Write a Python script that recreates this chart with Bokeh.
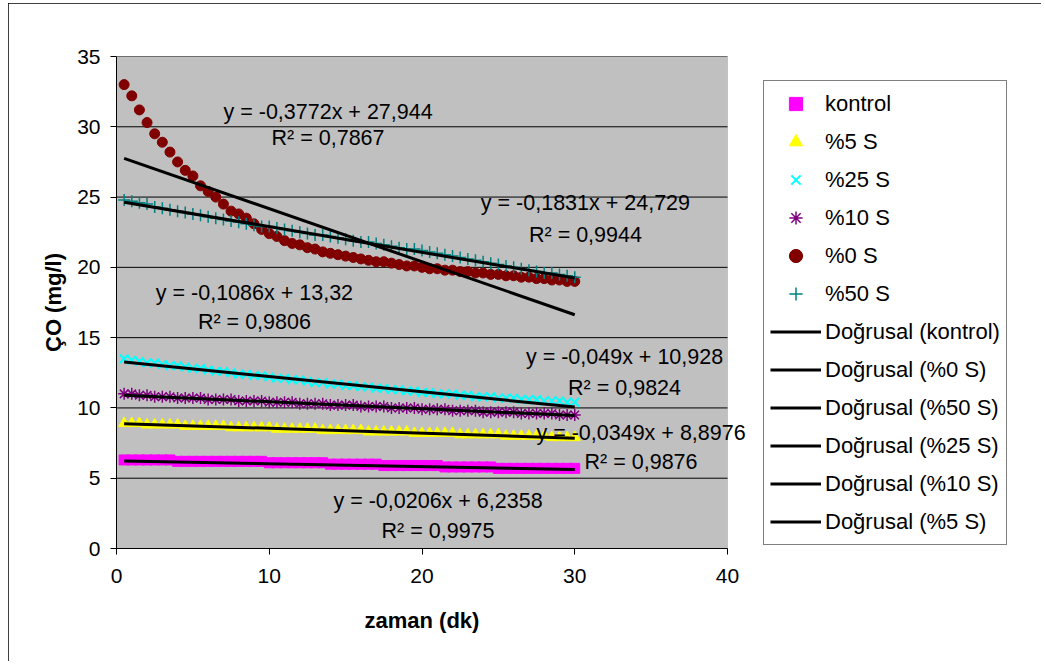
from bokeh.plotting import figure
from bokeh.models import Range1d, FixedTicker, Legend, LegendItem, Label, BoxAnnotation, Title
from bokeh.embed import file_html
from bokeh.resources import INLINE

# ---------------- data ----------------
x_vals = [0.5, 1.0, 1.5, 2.0, 2.5, 3.0, 3.5, 4.0, 4.5, 5.0,
          5.5, 6.0, 6.5, 7.0, 7.5, 8.0, 8.5, 9.0, 9.5, 10.0,
          10.5, 11.0, 11.5, 12.0, 12.5, 13.0, 13.5, 14.0, 14.5, 15.0,
          15.5, 16.0, 16.5, 17.0, 17.5, 18.0, 18.5, 19.0, 19.5, 20.0,
          20.5, 21.0, 21.5, 22.0, 22.5, 23.0, 23.5, 24.0, 24.5, 25.0,
          25.5, 26.0, 26.5, 27.0, 27.5, 28.0, 28.5, 29.0, 29.5, 30.0]

kontrol = [6.3, 6.3, 6.3, 6.3, 6.3, 6.3, 6.3, 6.2, 6.2, 6.2,
           6.2, 6.2, 6.2, 6.2, 6.2, 6.2, 6.2, 6.2, 6.2, 6.1,
           6.1, 6.1, 6.1, 6.1, 6.1, 6.1, 6.1, 6.0, 6.0, 6.0,
           6.0, 6.0, 6.0, 6.0, 5.9, 5.9, 5.9, 5.9, 5.9, 5.9,
           5.9, 5.9, 5.8, 5.8, 5.8, 5.8, 5.8, 5.8, 5.8, 5.7,
           5.7, 5.7, 5.7, 5.7, 5.7, 5.7, 5.7, 5.7, 5.7, 5.7]

s5 = [8.9, 8.9, 8.9, 8.8, 8.8, 8.8, 8.8, 8.8, 8.7, 8.7,
      8.7, 8.7, 8.7, 8.7, 8.6, 8.6, 8.6, 8.6, 8.6, 8.6,
      8.5, 8.5, 8.5, 8.5, 8.5, 8.5, 8.4, 8.4, 8.4, 8.4,
      8.4, 8.4, 8.3, 8.3, 8.3, 8.3, 8.3, 8.3, 8.2, 8.2,
      8.2, 8.2, 8.2, 8.2, 8.1, 8.1, 8.1, 8.1, 8.1, 8.1,
      8.0, 8.0, 8.0, 8.0, 8.0, 8.0, 7.9, 7.9, 7.9, 7.9]

s25 = [13.5, 13.4, 13.3, 13.2, 13.2, 13.1, 13.0, 13.0, 12.9, 12.8,
       12.8, 12.7, 12.6, 12.6, 12.5, 12.4, 12.4, 12.3, 12.3, 12.2,
       12.1, 12.1, 12.0, 12.0, 11.9, 11.8, 11.8, 11.7, 11.7, 11.6,
       11.6, 11.5, 11.5, 11.4, 11.4, 11.3, 11.3, 11.2, 11.2, 11.1,
       11.1, 11.0, 11.0, 11.0, 10.9, 10.9, 10.8, 10.8, 10.8, 10.7,
       10.7, 10.7, 10.6, 10.6, 10.6, 10.5, 10.5, 10.5, 10.4, 10.4]

s10 = [11.0, 11.0, 10.9, 10.9, 10.8, 10.8, 10.8, 10.7, 10.7, 10.7,
       10.7, 10.6, 10.6, 10.6, 10.6, 10.5, 10.5, 10.5, 10.5, 10.4,
       10.4, 10.4, 10.4, 10.3, 10.3, 10.3, 10.3, 10.2, 10.2, 10.2,
       10.2, 10.1, 10.1, 10.1, 10.1, 10.0, 10.0, 10.0, 10.0, 9.9,
       9.9, 9.9, 9.9, 9.8, 9.8, 9.8, 9.8, 9.7, 9.7, 9.7,
       9.7, 9.7, 9.6, 9.6, 9.6, 9.6, 9.6, 9.5, 9.5, 9.5]

s0 = [33.0, 32.2, 31.2, 30.3, 29.5, 28.9, 28.2, 27.5, 26.9, 26.5,
      25.8, 25.4, 25.0, 24.5, 24.0, 23.8, 23.5, 23.1, 22.7, 22.4,
      22.2, 21.9, 21.7, 21.6, 21.4, 21.3, 21.1, 21.0, 20.9, 20.8,
      20.7, 20.6, 20.5, 20.4, 20.4, 20.3, 20.2, 20.1, 20.1, 20.0,
      19.9, 19.9, 19.8, 19.8, 19.7, 19.7, 19.6, 19.6, 19.5, 19.5,
      19.4, 19.4, 19.3, 19.3, 19.2, 19.2, 19.1, 19.1, 19.0, 19.0]

s50 = [24.8, 24.7, 24.6, 24.5, 24.3, 24.2, 24.1, 24.0, 23.9, 23.8,
       23.7, 23.6, 23.5, 23.4, 23.3, 23.2, 23.1, 23.0, 22.9, 22.9,
       22.8, 22.7, 22.6, 22.5, 22.4, 22.3, 22.3, 22.2, 22.1, 22.0,
       21.9, 21.8, 21.8, 21.7, 21.6, 21.5, 21.4, 21.3, 21.3, 21.2,
       21.1, 21.0, 20.9, 20.8, 20.7, 20.6, 20.5, 20.4, 20.3, 20.2,
       20.1, 20.0, 19.9, 19.8, 19.7, 19.6, 19.6, 19.5, 19.4, 19.3]

series_names = ["kontrol", "%5 S", "%25 S", "%10 S", "%0 S", "%50 S"]
series_values = [kontrol, s5, s25, s10, s0, s50]

# trendline coefficients (as printed on the chart)
trend_slopes = {"kontrol": -0.0206, "%5 S": -0.0349, "%25 S": -0.1086,
                "%10 S": -0.049, "%0 S": -0.3772, "%50 S": -0.1831}
trend_intercepts = {"kontrol": 6.2358, "%5 S": 8.8976, "%25 S": 13.32,
                    "%10 S": 10.928, "%0 S": 27.944, "%50 S": 24.729}
trend_r2 = {"kontrol": "0,9975", "%5 S": "0,9876", "%25 S": "0,9806",
            "%10 S": "0,9824", "%0 S": "0,7867", "%50 S": "0,9944"}
trend_eq = {"kontrol": "y = -0,0206x + 6,2358", "%5 S": "y = -0,0349x + 8,8976",
            "%25 S": "y = -0,1086x + 13,32", "%10 S": "y = -0,049x + 10,928",
            "%0 S": "y = -0,3772x + 27,944", "%50 S": "y = -0,1831x + 24,729"}
trend_legend_order = ["kontrol", "%0 S", "%50 S", "%25 S", "%10 S", "%5 S"]

x_ticks = [0, 10, 20, 30, 40]
y_ticks = [0, 5, 10, 15, 20, 25, 30, 35]
X_MAX, Y_MAX = 40, 35
x_title = "zaman (dk)"
y_title = "ÇO (mg/l)"

# ---------------- layout / styles ----------------
FONT = "Liberation Sans"
FIG_W, FIG_H = 1033, 658
FRAME_L, FRAME_T = 108, 53          # frame offsets in the figure
PLOT_W, PLOT_H = 611, 492           # pixel size of the 0..40 x 0..35 plot area
FRAME_W = 896                       # frame extended right to hold legend / labels
x_end = X_MAX * FRAME_W / PLOT_W

styles = {
    "kontrol": dict(marker="square", size=10, fill_color="#FF00FF", line_color="#FF00FF"),
    "%5 S": dict(marker="triangle", size=11, fill_color="#FFFF00", line_color="#FFFF00"),
    "%25 S": dict(marker="x", size=12, line_color="#00FFFF", line_width=2),
    "%10 S": dict(marker="asterisk", size=12, line_color="#800080", line_width=1.5),
    "%0 S": dict(marker="circle", size=10, fill_color="#800000", line_color="#800000"),
    "%50 S": dict(marker="cross", size=12, line_color="#008080", line_width=1.5),
}
# label anchor positions (data coords) for each trend label: x, y(eq), y(R2)
label_pos = {
    "%0 S": (13.85, 31.04, 29.17),
    "%50 S": (30.7, 24.61, 22.27),
    "%25 S": (9.03, 18.21, 16.08),
    "%10 S": (33.26, 13.59, 11.45),
    "%5 S": (34.34, 8.25, 6.12),
    "kontrol": (21.05, 3.41, 1.28),
}

p = figure(width=FIG_W, height=FIG_H, output_backend="svg", toolbar_location=None,
           x_range=Range1d(0, x_end), y_range=Range1d(0, Y_MAX))
p.min_border_left = FRAME_L
p.min_border_top = FRAME_T
p.min_border_right = FIG_W - FRAME_L - FRAME_W
p.min_border_bottom = FIG_H - FRAME_T - PLOT_H
p.background_fill_color = "white"
p.border_fill_color = "white"
p.outline_line_color = None
p.styles = {"margin-left": "8px", "margin-top": "3px",
            "outline": "1px solid black", "outline-offset": "-1px"}

# gray plot area
p.add_layout(BoxAnnotation(left=0, right=X_MAX, bottom=0, top=Y_MAX,
                           fill_color="#C0C0C0", fill_alpha=1,
                           line_color="#808080", line_width=1, level="underlay"))

p.xgrid.visible = False
p.ygrid.visible = False
# horizontal gridlines across the plot area
p.segment(x0=[0] * len(y_ticks), x1=[X_MAX] * len(y_ticks), y0=y_ticks, y1=y_ticks,
          line_color="black", line_width=1)

p.xaxis.ticker = FixedTicker(ticks=x_ticks)
p.yaxis.ticker = FixedTicker(ticks=y_ticks)
p.xaxis.bounds = (0, X_MAX)
for ax in (p.xaxis[0], p.yaxis[0]):
    ax.axis_line_color = "black"
    ax.major_tick_line_color = "black"
    ax.major_tick_out = 6
    ax.major_tick_in = 0
    ax.minor_tick_line_color = None
    ax.major_label_text_font = FONT
    ax.major_label_text_font_size = "21px"
    ax.major_label_text_color = "black"
    ax.axis_label_text_font = FONT
    ax.axis_label_text_font_size = "22px"
    ax.axis_label_text_font_style = "bold"
    ax.axis_label_text_color = "black"
p.yaxis.axis_label = y_title
p.xaxis.major_label_standoff = 14
p.yaxis.major_label_standoff = 10
p.yaxis.axis_label_standoff = 8

# x axis title, centred under the 0..40 span of the axis
x_title_w = 115  # approx. rendered width of the bold title
p.add_layout(Title(text=x_title, align="left", offset=PLOT_W / 2 - x_title_w / 2,
                   text_font=FONT, text_font_size="22px", text_font_style="bold",
                   text_color="black", standoff=40), "below")

scatter_r = {}
for name, vals in zip(series_names, series_values):
    scatter_r[name] = p.scatter(x=x_vals, y=vals, **styles[name])

line_r = {}
x0, x1 = x_vals[0], x_vals[-1]
for name in trend_legend_order:
    a = trend_slopes[name]
    b = trend_intercepts[name]
    line_r[name] = p.line(x=[x0, x1], y=[a * x0 + b, a * x1 + b],
                          line_color="black", line_width=3)

for name in series_names:
    lx, ly_eq, ly_r2 = label_pos[name]
    p.add_layout(Label(x=lx, y=ly_eq, text=trend_eq[name], text_align="center",
                       text_baseline="middle", text_font=FONT,
                       text_font_size="21.5px", text_color="black"))
    p.add_layout(Label(x=lx, y=ly_r2, text="R² = " + trend_r2[name], text_align="center",
                       text_baseline="middle", text_font=FONT,
                       text_font_size="21.5px", text_color="black"))

items = [LegendItem(label=n, renderers=[scatter_r[n]]) for n in series_names]
items += [LegendItem(label="Doğrusal (" + n + ")", renderers=[line_r[n]])
          for n in trend_legend_order]
legend = Legend(items=items, location=(647, 3))
legend.border_line_color = "black"
legend.border_line_width = 1
legend.background_fill_color = "white"
legend.background_fill_alpha = 1
legend.label_text_font = FONT
legend.label_text_font_size = "22px"
legend.label_text_color = "black"
legend.glyph_width = 51
legend.glyph_height = 33
legend.label_height = 33
legend.spacing = 5
legend.padding = 6
legend.margin = 0
legend.label_standoff = 4
p.add_layout(legend)

open("out.html", "w").write(file_html(p, INLINE))
